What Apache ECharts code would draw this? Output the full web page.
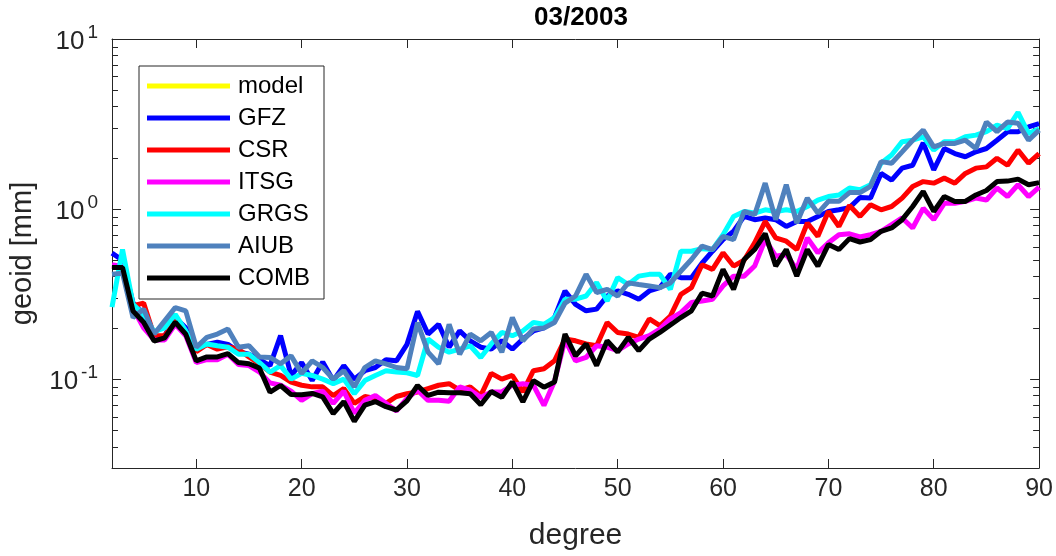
<!DOCTYPE html>
<html>
<head>
<meta charset="utf-8">
<script src="https://cdn.jsdelivr.net/npm/echarts@6/dist/echarts.min.js"></script>
<style>
html,body{margin:0;padding:0;background:#fff;}
#chart{width:1056px;height:556px;}
</style>
</head>
<body>
<div id="chart"></div>
<script>
// degrees 2..90
const degrees = [];
for (let d = 2; d <= 90; d++) degrees.push(d);

const seriesNames = ['model', 'GFZ', 'CSR', 'ITSG', 'GRGS', 'AIUB', 'COMB'];
const seriesColors = ['#FFFF00', '#0000FF', '#FF0000', '#FF00FF', '#00FFFF', '#4F81BD', '#000000'];

const model = [];

const gfz = [
  0.55, 0.5, 0.28, 0.24, 0.17, 0.18, 0.23, 0.2,
  0.15, 0.16, 0.165, 0.16, 0.145, 0.14, 0.13, 0.12, 0.18, 0.105,
  0.125, 0.098, 0.126, 0.098, 0.12, 0.1, 0.112, 0.117, 0.13, 0.128,
  0.16, 0.25, 0.184, 0.21, 0.154, 0.192, 0.168, 0.154, 0.15, 0.168,
  0.15, 0.172, 0.192, 0.2, 0.23, 0.33, 0.275, 0.252, 0.258, 0.308,
  0.33, 0.315, 0.295, 0.33, 0.345, 0.413, 0.395, 0.395, 0.48, 0.565,
  0.661, 0.74, 0.905, 0.866, 0.886, 0.866, 0.79, 0.846, 0.846, 0.905,
  0.968, 0.99, 1.02, 1.17, 1.16, 1.62, 1.48, 1.74, 1.81, 2.45,
  1.70, 2.27, 2.12, 2.03, 2.17, 2.27, 2.54, 2.85, 2.85, 3.04,
  3.18
];
const csr = [
  0.46, 0.45, 0.27, 0.28, 0.18, 0.18, 0.22, 0.19,
  0.145, 0.16, 0.15, 0.155, 0.15, 0.135, 0.123, 0.11, 0.105, 0.096,
  0.092, 0.09, 0.09, 0.08, 0.088, 0.072, 0.079, 0.077, 0.072, 0.079,
  0.082, 0.084, 0.088, 0.092, 0.094, 0.086, 0.09, 0.08, 0.108, 0.1,
  0.105, 0.084, 0.112, 0.115, 0.128, 0.172, 0.168, 0.161, 0.157, 0.215,
  0.188, 0.184, 0.176, 0.226, 0.206, 0.235, 0.315, 0.345, 0.47, 0.442,
  0.553, 0.462, 0.5, 0.633, 0.846, 0.677, 0.647, 0.578, 0.828, 0.691,
  0.968, 0.79, 1.05, 0.905, 1.06, 0.99, 1.035, 1.16, 1.356, 1.45,
  1.42, 1.52, 1.42, 1.62, 1.74, 1.77, 1.99, 1.81, 2.22, 1.86,
  2.12
];
const itsg = [
  0.47, 0.46, 0.26, 0.2, 0.17, 0.17, 0.21, 0.18,
  0.125, 0.13, 0.13, 0.14, 0.122, 0.12, 0.11, 0.095, 0.092, 0.085,
  0.075, 0.082, 0.085, 0.072, 0.085, 0.063, 0.075, 0.08, 0.072, 0.065,
  0.077, 0.086, 0.075, 0.075, 0.074, 0.09, 0.086, 0.078, 0.084, 0.084,
  0.092, 0.094, 0.092, 0.07, 0.097, 0.17, 0.128, 0.134, 0.157, 0.154,
  0.147, 0.161, 0.172, 0.18, 0.197, 0.226, 0.246, 0.282, 0.288, 0.295,
  0.353, 0.403, 0.403, 0.462, 0.661, 0.528, 0.54, 0.442, 0.677, 0.553,
  0.633, 0.707, 0.715, 0.685, 0.707, 0.74, 0.81, 0.886, 0.774, 1.01,
  0.866, 1.08, 1.08, 1.11, 1.16, 1.13, 1.33, 1.185, 1.39, 1.185,
  1.345
];
const grgs = [
  0.265, 0.578, 0.275, 0.24, 0.19, 0.2, 0.24, 0.192,
  0.15, 0.161, 0.157, 0.154, 0.14, 0.14, 0.125, 0.11, 0.12, 0.1,
  0.108, 0.105, 0.1, 0.094, 0.1, 0.082, 0.098, 0.105, 0.112, 0.11,
  0.109, 0.105, 0.172, 0.154, 0.144, 0.15, 0.157, 0.134, 0.161, 0.188,
  0.18, 0.192, 0.215, 0.21, 0.23, 0.295, 0.295, 0.308, 0.37, 0.288,
  0.395, 0.36, 0.403, 0.413, 0.413, 0.337, 0.565, 0.565, 0.585, 0.578,
  0.707, 0.905, 0.968, 0.947, 0.99, 0.968, 0.99, 0.968, 1.035, 1.13,
  1.185, 1.21, 1.33, 1.3, 1.39, 1.86, 2.08, 2.49, 2.54, 2.66,
  2.22, 2.49, 2.49, 2.66, 2.72, 2.85, 3.11, 2.97, 3.7, 2.78,
  2.97
];
const aiub = [
  0.413, 0.42, 0.23, 0.258, 0.184, 0.22, 0.263, 0.252,
  0.154, 0.176, 0.184, 0.197, 0.154, 0.157, 0.135, 0.134, 0.123, 0.137,
  0.108, 0.128, 0.117, 0.1, 0.112, 0.09, 0.117, 0.128, 0.123, 0.117,
  0.115, 0.215, 0.144, 0.123, 0.21, 0.14, 0.184, 0.168, 0.188, 0.144,
  0.23, 0.168, 0.197, 0.2, 0.215, 0.28, 0.308, 0.413, 0.323, 0.337,
  0.308, 0.368, 0.36, 0.353, 0.345, 0.368, 0.432, 0.505, 0.605, 0.578,
  0.691, 0.661, 0.968, 0.926, 1.42, 0.866, 1.39, 0.828, 1.16, 0.947,
  1.11, 1.11, 1.25, 1.25, 1.36, 1.9, 1.86, 2.17, 2.54, 2.91,
  2.32, 2.43, 2.43, 2.54, 2.27, 3.25, 2.85, 3.25, 3.2, 2.54,
  2.91
];
const comb = [
  0.453, 0.453, 0.251, 0.216, 0.1675, 0.1745, 0.216, 0.184,
  0.128, 0.135, 0.135, 0.141, 0.125, 0.123, 0.116, 0.0837, 0.0917, 0.0811,
  0.081, 0.0823, 0.0786, 0.0626, 0.0738, 0.0564, 0.0702, 0.0738, 0.0688, 0.0658,
  0.0745, 0.0917, 0.0801, 0.0837, 0.083, 0.083, 0.082, 0.0707, 0.0845, 0.078,
  0.0962, 0.0734, 0.098, 0.0896, 0.096, 0.184, 0.137, 0.161, 0.12, 0.168,
  0.144, 0.176, 0.147, 0.172, 0.188, 0.208, 0.23, 0.252, 0.32, 0.308,
  0.442, 0.337, 0.505, 0.578, 0.717, 0.462, 0.578, 0.403, 0.578, 0.462,
  0.618, 0.578, 0.67, 0.64, 0.661, 0.74, 0.774, 0.866, 1.035, 1.27,
  0.968, 1.185, 1.108, 1.108, 1.21, 1.285, 1.45, 1.46, 1.50, 1.39,
  1.43
];

const xTicks = [10, 20, 30, 40, 50, 60, 70, 80, 90];
const yMajorTicks = [0.1, 1, 10];
const yMinorTicks = [0.04, 0.05, 0.06, 0.07, 0.08, 0.09,
                     0.2, 0.3, 0.4, 0.5, 0.6, 0.7, 0.8, 0.9,
                     2, 3, 4, 5, 6, 7, 8, 9];

const allData = [model, gfz, csr, itsg, grgs, aiub, comb];

const AX = '#262626';
const FONT = '"Liberation Sans", Arial, Helvetica, sans-serif';

function pairs(arr) {
  return arr.map((v, i) => [degrees[i], v]);
}

function yLabel(v) {
  const e = Math.round(Math.log10(v));
  return '{b|10}{s|' + e + '}';
}

const baseX = { type: 'value', min: 2, max: 90, splitLine: { show: false } };
const baseY = { type: 'log', logBase: 10, min: 0.03, max: 10, splitLine: { show: false } };

const option = {
  animation: false,
  backgroundColor: '#fff',
  title: {
    text: '03/2003',
    left: 576, top: 0, textAlign: 'center',
    textStyle: { fontFamily: FONT, fontSize: 26, fontWeight: 'bold', color: '#000' }
  },
  grid: { left: 112, right: 16, top: 39, bottom: 86, containLabel: false },
  legend: {
    orient: 'vertical',
    left: 139, top: 66,
    padding: [8, 14, 9, 8],
    itemWidth: 83, itemHeight: 5,
    itemGap: 8,
    icon: 'rect',
    backgroundColor: '#fff',
    borderColor: AX, borderWidth: 1, borderRadius: 0,
    textStyle: { fontFamily: FONT, fontSize: 24, lineHeight: 24, color: '#000', padding: [0, 0, 0, 3] },
    data: seriesNames
  },
  xAxis: [
    Object.assign({}, baseX, {
      position: 'bottom',
      name: 'degree', nameLocation: 'middle', nameGap: 53,
      nameTextStyle: { fontFamily: FONT, fontSize: 30, color: AX },
      axisLine: { show: true, lineStyle: { color: AX, width: 1 } },
      axisTick: { show: true, inside: true, length: 9, customValues: xTicks, lineStyle: { color: AX } },
      axisLabel: { show: true, margin: 9, customValues: xTicks, fontFamily: FONT, fontSize: 25, color: AX }
    }),
    Object.assign({}, baseX, {
      position: 'top',
      axisLine: { show: true, lineStyle: { color: AX, width: 1 } },
      axisTick: { show: true, inside: true, length: 9, customValues: xTicks, lineStyle: { color: AX } },
      axisLabel: { show: false }
    })
  ],
  yAxis: [
    Object.assign({}, baseY, {
      position: 'left',
      name: 'geoid [mm]', nameLocation: 'middle', nameGap: 75, nameRotate: 90,
      nameTextStyle: { fontFamily: FONT, fontSize: 29, color: AX },
      axisLine: { show: true, lineStyle: { color: AX, width: 1 } },
      axisTick: { show: true, inside: true, length: 9, customValues: yMajorTicks, lineStyle: { color: AX } },
      axisLabel: {
        show: true, margin: 14, customValues: yMajorTicks,
        formatter: yLabel,
        rich: {
          b: { fontFamily: FONT, fontSize: 26, lineHeight: 32, color: AX, verticalAlign: 'bottom' },
          s: { fontFamily: FONT, fontSize: 19, lineHeight: 32, color: AX, verticalAlign: 'top', padding: [0, 0, 0, 3] }
        }
      }
    }),
    Object.assign({}, baseY, {
      position: 'left',
      axisLine: { show: false },
      axisTick: { show: true, inside: true, length: 6, customValues: yMinorTicks, lineStyle: { color: AX } },
      axisLabel: { show: false }
    }),
    Object.assign({}, baseY, {
      position: 'right',
      axisLine: { show: true, lineStyle: { color: AX, width: 1 } },
      axisTick: { show: true, inside: true, length: 9, customValues: yMajorTicks, lineStyle: { color: AX } },
      axisLabel: { show: false }
    }),
    Object.assign({}, baseY, {
      position: 'right',
      axisLine: { show: false },
      axisTick: { show: true, inside: true, length: 6, customValues: yMinorTicks, lineStyle: { color: AX } },
      axisLabel: { show: false }
    })
  ],
  series: seriesNames.map((name, i) => ({
    name: name,
    type: 'line',
    xAxisIndex: 0,
    yAxisIndex: 0,
    data: pairs(allData[i]),
    symbol: 'none',
    showSymbol: false,
    clip: true,
    lineStyle: { width: 5, color: seriesColors[i] },
    itemStyle: { color: seriesColors[i] },
    emphasis: { disabled: true },
    z: 2 + i
  }))
};

const chart = echarts.init(document.getElementById('chart'), null, { renderer: 'canvas' });
chart.setOption(option);
</script>
</body>
</html>
